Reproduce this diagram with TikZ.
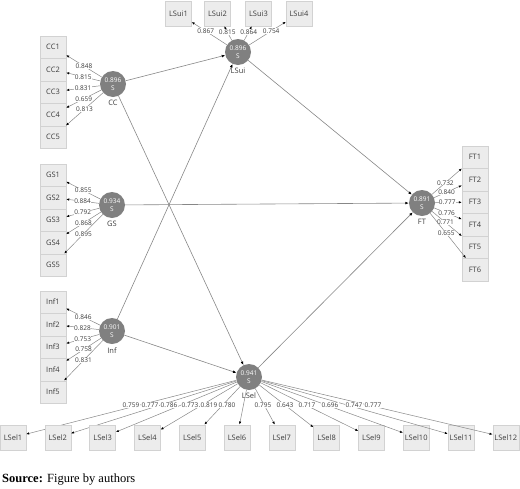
\documentclass[tikz,border=0pt]{standalone}
\usepackage{fontspec}
\setmainfont{Liberation Serif}
\newfontfamily\plsfont{Open Sans}
\definecolor{plsgray}{RGB}{128,128,128}
\definecolor{plsline}{RGB}{135,135,135}
\definecolor{plsbox}{RGB}{236,236,236}
\definecolor{plsedge}{RGB}{210,210,210}
\definecolor{plstext}{RGB}{60,60,60}
\usetikzlibrary{arrows.meta,positioning}

\begin{document}
\begin{tikzpicture}[x=1pt,y=-1pt,
  plslatent/.style={circle,fill=plsgray,minimum size=26pt,inner sep=0pt,align=center,
    font=\plsfont\fontsize{6.5}{7.5}\selectfont,text=white},
  plsitem/.style={draw=plsedge,fill=plsbox,minimum width=26pt,minimum height=22.5pt,
    inner sep=0pt,font=\plsfont\fontsize{7.5}{8}\selectfont,text=plstext},
  plsname/.style={inner sep=1pt,font=\plsfont\fontsize{7.5}{8}\selectfont,text=plstext},
  plsload/.style={draw=plsline,line width=0.5pt,-{Latex[length=3pt,width=2.4pt,color=black]}},
  plspath/.style={draw=plsline,line width=0.6pt,-{Latex[length=3.5pt,width=2.8pt,color=black]}},
  plscoef/.style={fill=white,inner sep=0.3pt,font=\plsfont\fontsize{6.5}{7}\selectfont,text=plstext}
]
  \useasboundingbox (0,0) rectangle (520,488);
  % latent variables
  \node[plslatent] (lsui) at (238,52) {0.896\\S};
  \node[plsname,below=2pt of lsui] (lsui-name) {LSui};
  \node[plslatent] (cc) at (113,84) {0.896\\S};
  \node[plsname,below=2pt of cc] (cc-name) {CC};
  \node[plslatent] (gs) at (112,205) {0.934\\S};
  \node[plsname,below=2pt of gs] (gs-name) {GS};
  \node[plslatent] (inf) at (112,331) {0.901\\S};
  \node[plsname,below=2pt of inf] (inf-name) {Inf};
  \node[plslatent] (ft) at (422,203) {0.891\\S};
  \node[plsname,below=2pt of ft] (ft-name) {FT};
  \node[plslatent] (lsel) at (249,377) {0.941\\S};
  \node[plsname,below=1.5pt of lsel] (lsel-name) {LSel};

  % inner model
  \draw[plspath] (cc) -- (lsui);
  \draw[plspath] (cc) -- (lsel);
  \draw[plspath] (gs) -- (ft);
  \draw[plspath] (inf) -- (lsui);
  \draw[plspath] (inf) -- (lsel);
  \draw[plspath] (lsui) -- (ft);
  \draw[plspath] (lsel) -- (ft);

  % CC block
  \foreach \i/\y/\v in {1/47/0.848,2/69.5/0.815,3/92/0.831,4/114.5/0.659,5/137/0.813}{
    \node[plsitem] (cc\i) at (53,\y) {CC\i};
    \draw[plsload] (cc) -- node[plscoef,pos=0.5] (cc-l\i) {\v} (cc\i);
  }
  % GS block
  \foreach \i/\y/\v in {1/175/0.855,2/197.5/0.884,3/220/0.792,4/242.5/0.868,5/265/0.895}{
    \node[plsitem] (gs\i) at (53,\y) {GS\i};
    \draw[plsload] (gs) -- node[plscoef,pos=0.5] (gs-l\i) {\v} (gs\i);
  }
  % Inf block
  \foreach \i/\y/\v in {1/302/0.846,2/324.5/0.828,3/347/0.753,4/369.5/0.758,5/392/0.831}{
    \node[plsitem] (inf\i) at (53,\y) {Inf\i};
    \draw[plsload] (inf) -- node[plscoef,pos=0.5] (inf-l\i) {\v} (inf\i);
  }
  % FT block
  \foreach \i/\y/\v in {1/157/0.732,2/179.5/0.840,3/202/0.777,4/224.5/0.776,5/247/0.771,6/269.5/0.655}{
    \node[plsitem] (ft\i) at (475,\y) {FT\i};
    \draw[plsload] (ft) -- node[plscoef,pos=0.45] (ft-l\i) {\v} (ft\i);
  }
  % LSui block
  \foreach \i/\x/\v in {1/178.5/0.867,2/217.5/0.815,3/258.5/0.864,4/299/0.754}{
    \node[plsitem,minimum height=25pt] (lsui\i) at (\x,13.5) {LSui\i};
    \draw[plsload] (lsui) -- node[plscoef,pos=0.6] (lsui-l\i) {\v} (lsui\i);
  }
  % LSel block
  \foreach \i in {1,...,12}{
    \node[plsitem,minimum height=25.5pt] (lsel\i) at ({13+44.8*(\i-1)},437.5) {LSel\i};
    \draw[plsload] (lsel) -- (lsel\i);
  }
  \foreach \i/\x/\v in {1/131/0.759,2/150/0.777,3/169/0.786,4/190/0.773,5/209/0.819,6/227/0.780,
    7/263/0.795,8/285/0.643,9/307/0.717,10/330/0.696,11/354/0.747,12/373/0.777}
    \node[plscoef] (lsel-l\i) at (\x,405) {\v};

  \node[anchor=west,inner sep=0pt,font=\fontsize{12.5}{14}\selectfont] (source) at (2,480)
    {\textbf{Source:} Figure by authors};
\end{tikzpicture}
\end{document}
